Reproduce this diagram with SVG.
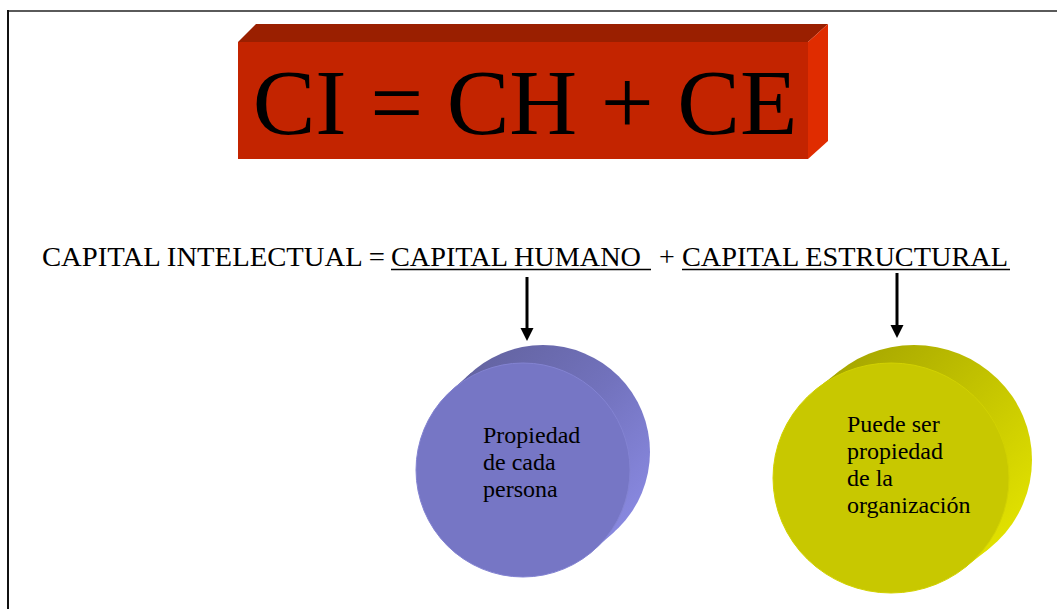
<svg xmlns="http://www.w3.org/2000/svg" width="1057" height="609" viewBox="0 0 1057 609">
<style>
text{font-family:'Liberation Serif','DejaVu Serif','Times New Roman',serif;fill:#000}
.title{font-size:94px}
.formula{font-size:28px}
.label{font-size:24px}
.ul{stroke:#000;stroke-width:1.3}
.shaft{stroke:#000;stroke-width:3}
</style>
<defs>
<linearGradient id="sideP" gradientUnits="userSpaceOnUse" x1="470" y1="345" x2="650" y2="520">
<stop offset="0" stop-color="#62629e"/>
<stop offset="0.5" stop-color="#7272bd"/>
<stop offset="1" stop-color="#8b8be4"/>
</linearGradient>
<linearGradient id="sideY" gradientUnits="userSpaceOnUse" x1="840" y1="345" x2="1030" y2="530">
<stop offset="0" stop-color="#a4a400"/>
<stop offset="0.5" stop-color="#c4c400"/>
<stop offset="1" stop-color="#e4e400"/>
</linearGradient>
</defs>
<rect width="1057" height="609" fill="#fff"/>
<g id="frame">
<line x1="8" y1="11" x2="1057" y2="11" stroke="#5a5a5a" stroke-width="2"/>
<line x1="8" y1="10" x2="8" y2="609" stroke="#111" stroke-width="2"/>
</g>
<g id="title-box">
<polygon points="238,42 256,24 828,24 808,42" fill="#9a1f00"/>
<polygon points="808,42 828,24 828,141 808,159" fill="#e02c00"/>
<rect x="238" y="42" width="570" height="117" fill="#c32400"/>
<text class="title" x="525" y="134" text-anchor="middle" font-family="Liberation Serif, DejaVu Serif, serif">CI = CH + CE</text>
</g>
<g id="formula" font-family="Liberation Serif, DejaVu Serif, serif">
<text class="formula" x="42" y="266" textLength="343" lengthAdjust="spacingAndGlyphs">CAPITAL INTELECTUAL =</text>
<text class="formula" x="391" y="266" textLength="250" lengthAdjust="spacingAndGlyphs">CAPITAL HUMANO</text>
<line class="ul" x1="391" y1="269.5" x2="651" y2="269.5"/>
<text class="formula" x="659" y="266">+</text>
<text class="formula" x="682" y="266" textLength="326" lengthAdjust="spacingAndGlyphs">CAPITAL ESTRUCTURAL</text>
<line class="ul" x1="682" y1="269.5" x2="1010" y2="269.5"/>
</g>
<g id="connectors">
<line class="shaft" x1="527" y1="277" x2="527" y2="330"/>
<polygon points="520.5,328 533.5,328 527,341" fill="#000"/>
<line class="shaft" x1="897" y1="273" x2="897" y2="327"/>
<polygon points="890.5,325 903.5,325 897,338" fill="#000"/>
</g>
<g id="node-capital-humano" font-family="Liberation Serif, DejaVu Serif, serif">
<circle cx="543" cy="452" r="107" fill="url(#sideP)"/>
<polygon points="594.6,549.5 614.6,531.5 471.4,372.5 451.4,390.5" fill="url(#sideP)"/>
<circle cx="523" cy="470" r="107" fill="#7676c5" stroke="#8383d2" stroke-width="1"/>
<text class="label" x="483" y="443">Propiedad</text>
<text class="label" x="483" y="470">de cada</text>
<text class="label" x="483" y="497">persona</text>
</g>
<g id="node-capital-estructural" font-family="Liberation Serif, DejaVu Serif, serif">
<ellipse cx="914" cy="460" rx="118" ry="115" fill="url(#sideY)"/>
<polygon points="964.9,567.6 987.9,549.6 840.1,370.4 817.1,388.4" fill="url(#sideY)"/>
<ellipse cx="891" cy="478" rx="118" ry="115" fill="#c8c800" stroke="#d2d200" stroke-width="1"/>
<text class="label" x="847" y="432">Puede ser</text>
<text class="label" x="847" y="459">propiedad</text>
<text class="label" x="847" y="486">de la</text>
<text class="label" x="847" y="513">organización</text>
</g>
</svg>
